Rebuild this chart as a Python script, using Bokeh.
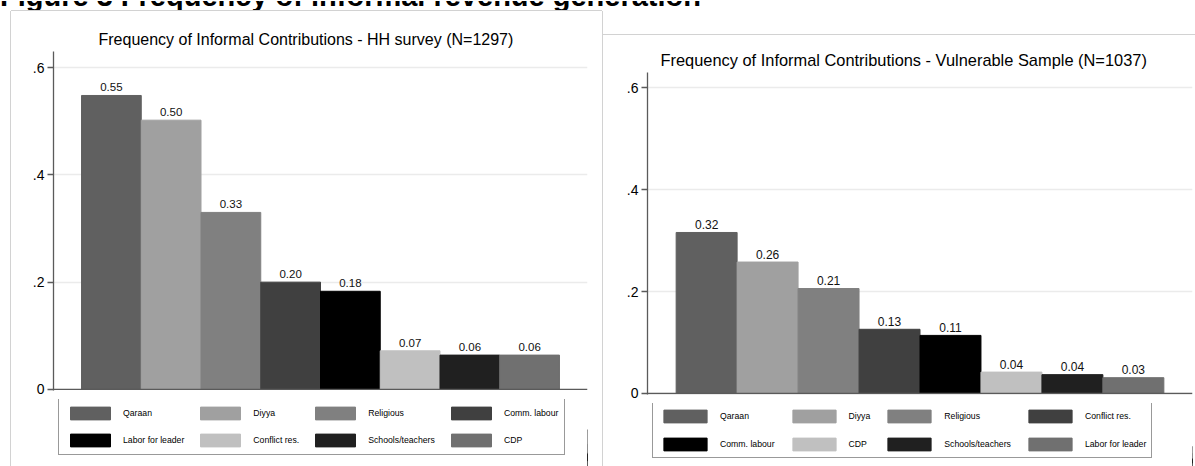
from bokeh.plotting import figure
from bokeh.models import (ColumnDataSource, Range1d, FixedTicker, Legend, LegendItem,
                          Div, Spacer, Span)
from bokeh.layouts import row, column
from bokeh.core.properties import value
from bokeh.embed import file_html
from bokeh.resources import INLINE

# ---------------- data ----------------
heading = "Figure 3 Frequency of informal revenue generation"
hh_title = "Frequency of Informal Contributions - HH survey (N=1297)"
vul_title = "Frequency of Informal Contributions - Vulnerable Sample (N=1037)"

hh_categories = ["Qaraan", "Diyya", "Religious", "Comm. labour",
                 "Labor for leader", "Conflict res.", "Schools/teachers", "CDP"]
hh_values = [0.548, 0.502, 0.330, 0.200, 0.183, 0.072, 0.064, 0.064]

vul_categories = ["Qaraan", "Diyya", "Religious", "Conflict res.",
                  "Comm. labour", "CDP", "Schools/teachers", "Labor for leader"]
vul_values = [0.316, 0.258, 0.206, 0.126, 0.114, 0.042, 0.037, 0.031]

bar_colors = ["#606060", "#a0a0a0", "#808080", "#404040",
              "#000000", "#c0c0c0", "#202020", "#707070"]

y_ticks = [0, 0.2, 0.4, 0.6]
y_tick_labels = ["0", ".2", ".4", ".6"]

FONT = "Liberation Sans"
AXIS_COLOR = "#5a5a5a"
GRID_COLOR = "#ebebeb"
EDGE = "#d2d2d2"


def make_source(cats, vals):
    n = len(cats)
    return ColumnDataSource(dict(
        x=list(range(n)), val=vals, cat=cats, color=bar_colors[:n],
        lbl=["%.2f" % v for v in vals]))


def make_panel(title, src, n, width, height, mb, pad, title_offset, title_size,
               label_size, shadow):
    p = figure(width=width, height=height,
               x_range=Range1d(-0.5 - pad, n - 0.5 + pad),
               y_range=Range1d(-0.002, 0.63),
               output_backend="svg", toolbar_location=None,
               min_border_left=mb[0], min_border_right=mb[1],
               min_border_top=mb[2], min_border_bottom=mb[3],
               background_fill_color="white", border_fill_color="white")
    p.outline_line_color = None

    p.title.text = title
    p.title.align = "left"
    p.title.offset = title_offset
    p.title.standoff = 7
    p.title.text_font = FONT
    p.title.text_font_size = title_size
    p.title.text_font_style = "normal"
    p.title.text_color = "#000000"

    p.vbar(x="x", top="val", width=1.0, bottom=0, source=src,
           fill_color="color", line_color="color", line_width=1)
    p.text(x="x", y="val", text="lbl", source=src, text_align="center",
           text_baseline="alphabetic", y_offset=-8, text_font=value(FONT),
           text_font_size=label_size, text_color="#111111")

    p.yaxis.ticker = FixedTicker(ticks=y_ticks)
    p.yaxis.major_label_overrides = dict(zip(y_ticks, y_tick_labels))
    p.yaxis.major_tick_out = 6
    p.yaxis.major_tick_in = 0
    p.yaxis.minor_tick_line_color = None
    p.yaxis.axis_line_color = AXIS_COLOR
    p.yaxis.axis_line_width = 1.3
    p.yaxis.major_tick_line_color = AXIS_COLOR
    p.yaxis.major_tick_line_width = 1.3
    p.yaxis.major_label_standoff = 3
    p.yaxis.major_label_text_font = FONT
    p.yaxis.major_label_text_font_size = "14px"
    p.yaxis.major_label_text_color = "#000000"

    p.xaxis.visible = False
    p.add_layout(Span(location=0, dimension="width", line_color=AXIS_COLOR,
                      line_width=1.3))

    p.xgrid.visible = False
    p.ygrid.ticker = FixedTicker(ticks=y_ticks[1:])
    p.ygrid.grid_line_color = GRID_COLOR
    p.ygrid.grid_line_width = 1.5
    p.styles = {"box-shadow": shadow}
    return p


def make_legend_fig(src, cats, width, height, loc, glyph_w, spacing, padding, shadow):
    lf = figure(width=width, height=height, x_range=Range1d(-20, -19),
                y_range=Range1d(0, 1), output_backend="svg",
                toolbar_location=None, min_border=0,
                background_fill_color="white", border_fill_color="white")
    lf.axis.visible = False
    lf.grid.visible = False
    lf.outline_line_color = None
    r = lf.vbar(x="x", top="val", width=1.0, bottom=0, source=src,
                fill_color="color", line_color="color", line_width=1)
    n = len(cats)
    half = n // 2
    # column-major fill of a 2-row grid -> interleave so rows read in bar order
    order = [k for pair in zip(range(half), range(half, n)) for k in pair]
    legend = Legend(items=[LegendItem(label=cats[i], renderers=[r], index=i)
                           for i in order],
                    ncols=4, location=loc,
                    glyph_width=glyph_w, glyph_height=16, label_height=16,
                    label_standoff=8, label_text_font=FONT,
                    label_text_font_size="8.7px", label_text_color="#000000",
                    padding=padding, spacing=spacing,
                    border_line_color="#333333", border_line_width=1,
                    background_fill_color="white", background_fill_alpha=1)
    lf.add_layout(legend, "center")
    lf.styles = {"box-shadow": shadow}
    return lf


hh_src = make_source(hh_categories, hh_values)
vul_src = make_source(vul_categories, vul_values)

left_shadow = f"-1px 0 0 0 {EDGE}, 1px 0 0 0 {EDGE}, 0 -1px 0 0 {EDGE}"
left_shadow_lg = f"-1px 0 0 0 {EDGE}, 1px 0 0 0 {EDGE}"
right_shadow = f"-1px 0 0 0 {EDGE}, 0 -1px 0 0 {EDGE}"
right_shadow_lg = f"-1px 0 0 0 {EDGE}"

f1 = make_panel(hh_title, hh_src, len(hh_categories), 591, 388,
                (42, 15, 40, 9), 0.469, 45, "16px", "11.5px", left_shadow)
lg1 = make_legend_fig(hh_src, hh_categories, 591, 67, (5, 11), 50, 11, 6,
                      left_shadow_lg)

f2 = make_panel(vul_title, vul_src, len(vul_categories), 592, 368,
                (44, 3, 37, 9), 0.47, 13, "16.4px", "12px", right_shadow)
lg2 = make_legend_fig(vul_src, vul_categories, 592, 63, (5, 8), 54, 12, 5,
                      right_shadow_lg)

head = Div(text=(
    '<div style="position:relative;width:1195px;height:11px;overflow:hidden;">'
    '<div style="position:absolute;left:0;top:-19.5px;font-family:\'Liberation Sans\';'
    'font-weight:bold;font-size:29px;line-height:29px;white-space:nowrap;color:#000;">'
    + heading + '</div></div>'), width=1195, height=11, margin=(0, 0, 0, 0),
    styles={"overflow": "hidden"})

root = column(head,
              row(Spacer(width=11, height=455, margin=(0, 0, 0, 0)),
                  column(f1, lg1),
                  Spacer(width=1, height=455, margin=(0, 0, 0, 0)),
                  column(Spacer(width=592, height=24, margin=(0, 0, 0, 0)), f2, lg2)))

open("out.html", "w").write(file_html(root, INLINE))
